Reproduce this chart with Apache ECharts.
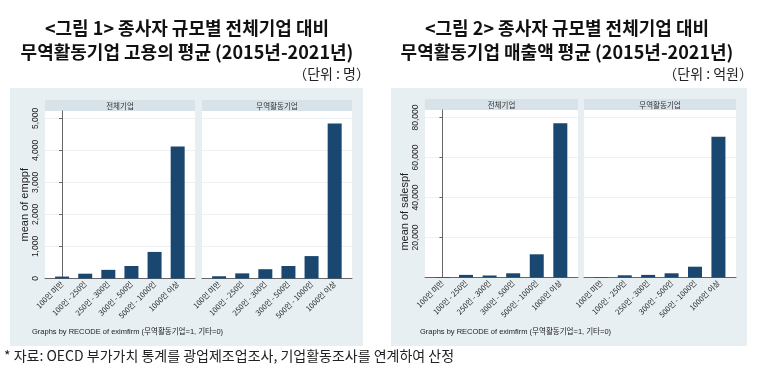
<!DOCTYPE html>
<html><head><meta charset="utf-8">
<script src="https://cdn.jsdelivr.net/npm/echarts@6/dist/echarts.min.js"></script>
<style>html,body{margin:0;padding:0;background:#fff}#c{width:759px;height:385px}</style>
</head><body><div id="c"></div>
<script>
// ---- data ----
const categories = ['100인 미만','100인 - 250인','250인 - 300인','300인 - 500인','500인 - 1000인','1000인 이상'];
const panelNames = ['전체기업','무역활동기업'];
const empAll = [60,150,270,390,830,4120];
const empTrade = [70,160,290,390,700,4840];
const salesAll = [250,1300,1000,2100,11600,77100];
const salesTrade = [250,1100,1300,2100,5400,70400];
const empTicks = [0,1000,2000,3000,4000,5000];
const salesTicks = [20000,40000,60000,80000];
const titles1 = ['<그림 1> 종사자 규모별 전체기업 대비','무역활동기업 고용의 평균 (2015년-2021년)'];
const titles2 = ['<그림 2> 종사자 규모별 전체기업 대비','무역활동기업 매출액 평균 (2015년-2021년)'];
const units = ['（단위 : 명）','（단위 : 억원）'];
const yNames = ['mean of emppf','mean of salespf'];
const byNote = 'Graphs by RECODE of eximfirm (무역활동기업=1, 기타=0)';
const source = '* 자료: OECD 부가가치 통계를 광업제조업조사, 기업활동조사를 연계하여 산정';

const FONT = '"Liberation Sans", Arial, "Noto Sans CJK KR", sans-serif';
const KFONT = '"Noto Sans CJK KR", sans-serif';
const BAR = '#1a476f';
const BG = '#e8eff2';
const STRIP = '#d7e2e9';

const panels = [
  {left:45, top:111, w:150, h:167.5, data:empAll, chart:0, showY:true},
  {left:202, top:111, w:150, h:167.5, data:empTrade, chart:0, showY:false},
  {left:425, top:110, w:153, h:167.5, data:salesAll, chart:1, showY:true},
  {left:584, top:110, w:152, h:167.5, data:salesTrade, chart:1, showY:false}
];
const yMax = [5230, 83750];
const yInt = [1000, 20000];
const yTicks = [empTicks, salesTicks];
const idx = categories.map((c,i)=>i);

const grid=[], xAxis=[], yAxis=[], series=[];
panels.forEach((p,i)=>{
  grid.push({left:p.left, top:p.top, width:p.w, height:p.h, show:true, backgroundColor:'#fff', borderWidth:0, containLabel:false});
  xAxis.push({type:'value', gridIndex:i, min:-0.74, max:5.75,
    axisLine:{show:true, onZero:false, lineStyle:{color:'#666', width:1}},
    axisTick:{show:false}, splitLine:{show:false},
    axisLabel:{customValues:idx, rotate:45, fontSize:7.5, fontFamily:KFONT, color:'#222', margin:4,
      formatter:v=>categories[Math.round(v)]}
  });
  yAxis.push({type:'value', gridIndex:i, min:0, max:yMax[p.chart], interval:yInt[p.chart],
    name: p.showY ? yNames[p.chart] : '', nameLocation:'middle', nameGap:15,
    nameTextStyle:{fontSize:11, fontFamily:FONT, color:'#222', padding: p.chart===0 ? [0,20,0,0] : [0,36,0,0]},
    axisLine:{show:p.showY, lineStyle:{color:'#666', width:1}},
    axisTick:{show:p.showY, length:3, customValues:yTicks[p.chart], lineStyle:{color:'#666'}},
    axisLabel:{show:p.showY, customValues:yTicks[p.chart], rotate:90, fontSize:8.5, fontFamily:FONT, color:'#222', margin:5,
      formatter:v=>v.toLocaleString('en-US')},
    splitLine:{show:true, lineStyle:{color:'#edf1f3', width:1}}
  });
  series.push({type:'bar', xAxisIndex:i, yAxisIndex:i, barWidth:14,
    itemStyle:{color:BAR}, data:p.data.map((v,k)=>[k,v]), silent:true});
});

const graphic=[];
graphic.push({type:'rect', z:-10, shape:{x:10,y:88,width:353,height:258}, style:{fill:BG}});
graphic.push({type:'rect', z:-10, shape:{x:391,y:88,width:356,height:258}, style:{fill:BG}});
panels.forEach((p,i)=>{
  const sy = p.chart===0 ? 100 : 99;
  graphic.push({type:'rect', z:-5, shape:{x:p.left, y:sy, width:p.w, height:p.top-sy}, style:{fill:STRIP}});
  graphic.push({type:'text', z:5, x:p.left+p.w/2, y:sy+(p.top-sy)/2+0.5,
    style:{text:panelNames[i%2], fontSize:7.5, fontFamily:KFONT, fill:'#333', align:'center', verticalAlign:'middle'}});
});
[[titles1,187],[titles2,567]].forEach(([t,cx])=>{
  graphic.push({type:'text', x:cx, y:28.5, style:{text:t[0], fontSize:18, fontWeight:'bold', fontFamily:KFONT, fill:'#111', align:'center', verticalAlign:'middle'}});
  graphic.push({type:'text', x:cx, y:52.5, style:{text:t[1], fontSize:18, fontWeight:'bold', fontFamily:KFONT, fill:'#111', align:'center', verticalAlign:'middle'}});
});
graphic.push({type:'text', x:370, y:74, style:{text:units[0], fontSize:14, fontFamily:KFONT, fill:'#222', align:'right', verticalAlign:'middle'}});
graphic.push({type:'text', x:753, y:74, style:{text:units[1], fontSize:14, fontFamily:KFONT, fill:'#222', align:'right', verticalAlign:'middle'}});
graphic.push({type:'text', x:32, y:332, style:{text:byNote, fontSize:7.5, fontFamily:FONT, fill:'#222', align:'left', verticalAlign:'middle'}});
graphic.push({type:'text', x:420, y:332, style:{text:byNote, fontSize:7.5, fontFamily:FONT, fill:'#222', align:'left', verticalAlign:'middle'}});
graphic.push({type:'text', x:4, y:356, style:{text:source, fontSize:14, fontFamily:KFONT, fill:'#222', align:'left', verticalAlign:'middle'}});

const chart = echarts.init(document.getElementById('c'), null, {renderer:'canvas'});
chart.setOption({animation:false, backgroundColor:'#fff', grid, xAxis, yAxis, series, graphic});
</script></body></html>
